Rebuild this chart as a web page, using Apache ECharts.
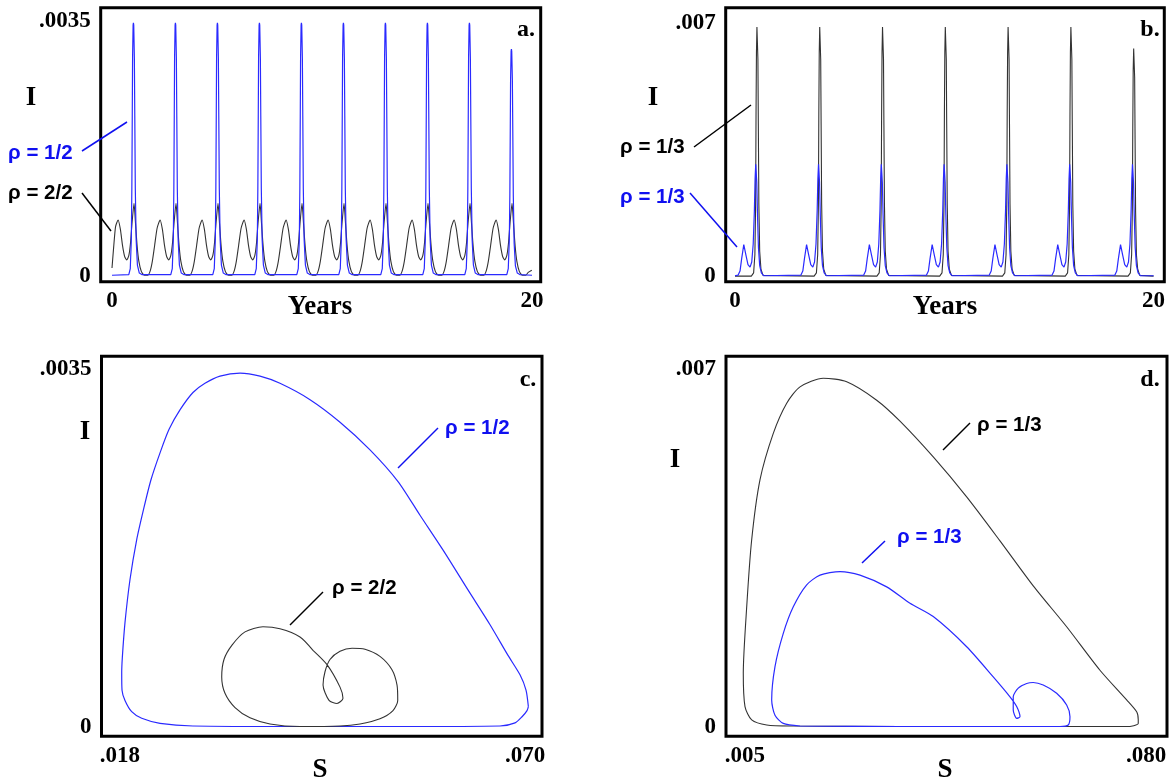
<!DOCTYPE html>
<html>
<head>
<meta charset="utf-8">
<script src="https://cdn.jsdelivr.net/npm/echarts@6/dist/echarts.min.js"></script>
<style>
html,body{margin:0;padding:0;background:#fff;}
#chart{width:1172px;height:780px;}
</style>
</head>
<body>
<div id="chart"></div>
<script>
// ---------- DATA ----------
// Panel a: I vs years
const aRhoHalf = [ // rho = 1/2 (blue)
[0,0.00001],
[0.80,0.00002],[0.87,0.0001],[0.92,0.0005],[0.945,0.0012],[0.965,0.0022],[0.98,0.0030],[1.005,0.00345],[1.02,0.00348],[1.035,0.00345],[1.065,0.0030],[1.085,0.0022],[1.11,0.0012],[1.15,0.0005],[1.21,0.00015],[1.30,0.00004],[1.42,0.00002],
[2.80,0.00002],[2.87,0.0001],[2.92,0.0005],[2.945,0.0012],[2.965,0.0022],[2.98,0.0030],[3.005,0.00345],[3.02,0.00348],[3.035,0.00345],[3.065,0.0030],[3.085,0.0022],[3.11,0.0012],[3.15,0.0005],[3.21,0.00015],[3.30,0.00004],[3.42,0.00002],
[4.80,0.00002],[4.87,0.0001],[4.92,0.0005],[4.945,0.0012],[4.965,0.0022],[4.98,0.0030],[5.005,0.00345],[5.02,0.00348],[5.035,0.00345],[5.065,0.0030],[5.085,0.0022],[5.11,0.0012],[5.15,0.0005],[5.21,0.00015],[5.30,0.00004],[5.42,0.00002],
[6.80,0.00002],[6.87,0.0001],[6.92,0.0005],[6.945,0.0012],[6.965,0.0022],[6.98,0.0030],[7.005,0.00345],[7.02,0.00348],[7.035,0.00345],[7.065,0.0030],[7.085,0.0022],[7.11,0.0012],[7.15,0.0005],[7.21,0.00015],[7.30,0.00004],[7.42,0.00002],
[8.80,0.00002],[8.87,0.0001],[8.92,0.0005],[8.945,0.0012],[8.965,0.0022],[8.98,0.0030],[9.005,0.00345],[9.02,0.00348],[9.035,0.00345],[9.065,0.0030],[9.085,0.0022],[9.11,0.0012],[9.15,0.0005],[9.21,0.00015],[9.30,0.00004],[9.42,0.00002],
[10.80,0.00002],[10.87,0.0001],[10.92,0.0005],[10.945,0.0012],[10.965,0.0022],[10.98,0.0030],[11.005,0.00345],[11.02,0.00348],[11.035,0.00345],[11.065,0.0030],[11.085,0.0022],[11.11,0.0012],[11.15,0.0005],[11.21,0.00015],[11.30,0.00004],[11.42,0.00002],
[12.80,0.00002],[12.87,0.0001],[12.92,0.0005],[12.945,0.0012],[12.965,0.0022],[12.98,0.0030],[13.005,0.00345],[13.02,0.00348],[13.035,0.00345],[13.065,0.0030],[13.085,0.0022],[13.11,0.0012],[13.15,0.0005],[13.21,0.00015],[13.30,0.00004],[13.42,0.00002],
[14.80,0.00002],[14.87,0.0001],[14.92,0.0005],[14.945,0.0012],[14.965,0.0022],[14.98,0.0030],[15.005,0.00345],[15.02,0.00348],[15.035,0.00345],[15.065,0.0030],[15.085,0.0022],[15.11,0.0012],[15.15,0.0005],[15.21,0.00015],[15.30,0.00004],[15.42,0.00002],
[16.80,0.00002],[16.87,0.0001],[16.92,0.0005],[16.945,0.0012],[16.965,0.0022],[16.98,0.0030],[17.005,0.00345],[17.02,0.00348],[17.035,0.00345],[17.065,0.0030],[17.085,0.0022],[17.11,0.0012],[17.15,0.0005],[17.21,0.00015],[17.30,0.00004],[17.42,0.00002],
[18.80,0.00002],[18.87,0.0001],[18.92,0.0005],[18.945,0.0011],[18.965,0.0020],[18.98,0.0027],[19.005,0.00309],[19.02,0.00312],[19.035,0.00309],[19.065,0.0027],[19.085,0.0020],[19.11,0.0011],[19.15,0.00045],[19.21,0.00014],[19.30,0.00004],[19.42,0.00002],
[20,0.00001]
];
const aRhoTwo = [ // rho = 2/2 (dark)
[0,0.00011],[0.08,0.0004],[0.17,0.00068],[0.29,0.00077],[0.40,0.00064],[0.50,0.00042],[0.60,0.00027],[0.70,0.00022],[0.80,0.00028],[0.88,0.00045],[0.96,0.00075],[1.05,0.001],[1.12,0.00072],[1.20,0.0004],[1.28,0.0002],[1.40,0.00006],[1.55,0.00001],[1.70,0.00001],[1.82,0.00007],[1.92,0.0002],
[2.03,0.00042],[2.15,0.00066],[2.29,0.00077],[2.40,0.00064],[2.50,0.00042],[2.60,0.00027],[2.70,0.00022],[2.80,0.00028],[2.88,0.00045],[2.96,0.00075],[3.05,0.001],[3.12,0.00072],[3.20,0.0004],[3.28,0.0002],[3.40,0.00006],[3.55,0.00001],[3.70,0.00001],[3.82,0.00007],[3.92,0.0002],
[4.03,0.00042],[4.15,0.00066],[4.29,0.00077],[4.40,0.00064],[4.50,0.00042],[4.60,0.00027],[4.70,0.00022],[4.80,0.00028],[4.88,0.00045],[4.96,0.00075],[5.05,0.001],[5.12,0.00072],[5.20,0.0004],[5.28,0.0002],[5.40,0.00006],[5.55,0.00001],[5.70,0.00001],[5.82,0.00007],[5.92,0.0002],
[6.03,0.00042],[6.15,0.00066],[6.29,0.00077],[6.40,0.00064],[6.50,0.00042],[6.60,0.00027],[6.70,0.00022],[6.80,0.00028],[6.88,0.00045],[6.96,0.00075],[7.05,0.001],[7.12,0.00072],[7.20,0.0004],[7.28,0.0002],[7.40,0.00006],[7.55,0.00001],[7.70,0.00001],[7.82,0.00007],[7.92,0.0002],
[8.03,0.00042],[8.15,0.00066],[8.29,0.00077],[8.40,0.00064],[8.50,0.00042],[8.60,0.00027],[8.70,0.00022],[8.80,0.00028],[8.88,0.00045],[8.96,0.00075],[9.05,0.001],[9.12,0.00072],[9.20,0.0004],[9.28,0.0002],[9.40,0.00006],[9.55,0.00001],[9.70,0.00001],[9.82,0.00007],[9.92,0.0002],
[10.03,0.00042],[10.15,0.00066],[10.29,0.00077],[10.40,0.00064],[10.50,0.00042],[10.60,0.00027],[10.70,0.00022],[10.80,0.00028],[10.88,0.00045],[10.96,0.00075],[11.05,0.001],[11.12,0.00072],[11.20,0.0004],[11.28,0.0002],[11.40,0.00006],[11.55,0.00001],[11.70,0.00001],[11.82,0.00007],[11.92,0.0002],
[12.03,0.00042],[12.15,0.00066],[12.29,0.00077],[12.40,0.00064],[12.50,0.00042],[12.60,0.00027],[12.70,0.00022],[12.80,0.00028],[12.88,0.00045],[12.96,0.00075],[13.05,0.001],[13.12,0.00072],[13.20,0.0004],[13.28,0.0002],[13.40,0.00006],[13.55,0.00001],[13.70,0.00001],[13.82,0.00007],[13.92,0.0002],
[14.03,0.00042],[14.15,0.00066],[14.29,0.00077],[14.40,0.00064],[14.50,0.00042],[14.60,0.00027],[14.70,0.00022],[14.80,0.00028],[14.88,0.00045],[14.96,0.00075],[15.05,0.001],[15.12,0.00072],[15.20,0.0004],[15.28,0.0002],[15.40,0.00006],[15.55,0.00001],[15.70,0.00001],[15.82,0.00007],[15.92,0.0002],
[16.03,0.00042],[16.15,0.00066],[16.29,0.00077],[16.40,0.00064],[16.50,0.00042],[16.60,0.00027],[16.70,0.00022],[16.80,0.00028],[16.88,0.00045],[16.96,0.00075],[17.05,0.001],[17.12,0.00072],[17.20,0.0004],[17.28,0.0002],[17.40,0.00006],[17.55,0.00001],[17.70,0.00001],[17.82,0.00007],[17.92,0.0002],
[18.03,0.00042],[18.15,0.00066],[18.29,0.00077],[18.40,0.00064],[18.50,0.00042],[18.60,0.00027],[18.70,0.00022],[18.80,0.00028],[18.88,0.00045],[18.96,0.00075],[19.05,0.001],[19.12,0.00072],[19.20,0.0004],[19.28,0.0002],[19.40,0.00006],[19.55,0.00001],[19.70,0.00001],[19.82,0.00005],[19.99,0.00008]
];
// Panel b: I vs years
const bRhoThirdBlack = [
[0,0.00001],
[0.78,0.00001],[0.89,0.0001],[0.95,0.0006],[0.985,0.002],[1.005,0.0045],[1.025,0.0062],[1.048,0.0069],[1.072,0.0069],[1.095,0.006],[1.115,0.0042],[1.14,0.002],[1.18,0.0007],[1.24,0.0002],[1.34,0.00003],
[3.78,0.00001],[3.89,0.0001],[3.95,0.0006],[3.985,0.002],[4.005,0.0045],[4.025,0.0062],[4.048,0.0069],[4.072,0.0069],[4.095,0.006],[4.115,0.0042],[4.14,0.002],[4.18,0.0007],[4.24,0.0002],[4.34,0.00003],
[6.78,0.00001],[6.89,0.0001],[6.95,0.0006],[6.985,0.002],[7.005,0.0045],[7.025,0.0062],[7.048,0.0069],[7.072,0.0069],[7.095,0.006],[7.115,0.0042],[7.14,0.002],[7.18,0.0007],[7.24,0.0002],[7.34,0.00003],
[9.78,0.00001],[9.89,0.0001],[9.95,0.0006],[9.985,0.002],[10.005,0.0045],[10.025,0.0062],[10.048,0.0069],[10.072,0.0069],[10.095,0.006],[10.115,0.0042],[10.14,0.002],[10.18,0.0007],[10.24,0.0002],[10.34,0.00003],
[12.78,0.00001],[12.89,0.0001],[12.95,0.0006],[12.985,0.002],[13.005,0.0045],[13.025,0.0062],[13.048,0.0069],[13.072,0.0069],[13.095,0.006],[13.115,0.0042],[13.14,0.002],[13.18,0.0007],[13.24,0.0002],[13.34,0.00003],
[15.78,0.00001],[15.89,0.0001],[15.95,0.0006],[15.985,0.002],[16.005,0.0045],[16.025,0.0062],[16.048,0.0069],[16.072,0.0069],[16.095,0.006],[16.115,0.0042],[16.14,0.002],[16.18,0.0007],[16.24,0.0002],[16.34,0.00003],
[18.78,0.00001],[18.89,0.0001],[18.95,0.0006],[18.985,0.0019],[19.005,0.0041],[19.025,0.0057],[19.048,0.0063],[19.072,0.0063],[19.095,0.0055],[19.115,0.0038],[19.14,0.0018],[19.18,0.0006],[19.24,0.0002],[19.34,0.00003],
[20,0.00001]
];
const bRhoThirdBlue = [
[0,0.00002],
[0.15,0.00004],[0.24,0.00015],[0.32,0.0005],[0.42,0.00088],[0.52,0.0006],[0.62,0.00033],[0.72,0.00026],[0.80,0.0004],[0.87,0.0009],[0.925,0.0018],[0.96,0.0027],[0.99,0.0031],[1.01,0.0031],[1.04,0.0026],[1.075,0.0017],[1.12,0.0008],[1.18,0.0003],[1.26,0.0001],[1.38,0.00002],
[3.15,0.00004],[3.24,0.00015],[3.32,0.0005],[3.42,0.00088],[3.52,0.0006],[3.62,0.00033],[3.72,0.00026],[3.80,0.0004],[3.87,0.0009],[3.925,0.0018],[3.96,0.0027],[3.99,0.0031],[4.01,0.0031],[4.04,0.0026],[4.075,0.0017],[4.12,0.0008],[4.18,0.0003],[4.26,0.0001],[4.38,0.00002],
[6.15,0.00004],[6.24,0.00015],[6.32,0.0005],[6.42,0.00088],[6.52,0.0006],[6.62,0.00033],[6.72,0.00026],[6.80,0.0004],[6.87,0.0009],[6.925,0.0018],[6.96,0.0027],[6.99,0.0031],[7.01,0.0031],[7.04,0.0026],[7.075,0.0017],[7.12,0.0008],[7.18,0.0003],[7.26,0.0001],[7.38,0.00002],
[9.15,0.00004],[9.24,0.00015],[9.32,0.0005],[9.42,0.00088],[9.52,0.0006],[9.62,0.00033],[9.72,0.00026],[9.80,0.0004],[9.87,0.0009],[9.925,0.0018],[9.96,0.0027],[9.99,0.0031],[10.01,0.0031],[10.04,0.0026],[10.075,0.0017],[10.12,0.0008],[10.18,0.0003],[10.26,0.0001],[10.38,0.00002],
[12.15,0.00004],[12.24,0.00015],[12.32,0.0005],[12.42,0.00088],[12.52,0.0006],[12.62,0.00033],[12.72,0.00026],[12.80,0.0004],[12.87,0.0009],[12.925,0.0018],[12.96,0.0027],[12.99,0.0031],[13.01,0.0031],[13.04,0.0026],[13.075,0.0017],[13.12,0.0008],[13.18,0.0003],[13.26,0.0001],[13.38,0.00002],
[15.15,0.00004],[15.24,0.00015],[15.32,0.0005],[15.42,0.00088],[15.52,0.0006],[15.62,0.00033],[15.72,0.00026],[15.80,0.0004],[15.87,0.0009],[15.925,0.0018],[15.96,0.0027],[15.99,0.0031],[16.01,0.0031],[16.04,0.0026],[16.075,0.0017],[16.12,0.0008],[16.18,0.0003],[16.26,0.0001],[16.38,0.00002],
[18.15,0.00004],[18.24,0.00015],[18.32,0.0005],[18.42,0.00088],[18.52,0.0006],[18.62,0.00033],[18.72,0.00026],[18.80,0.0004],[18.87,0.0009],[18.925,0.0018],[18.96,0.0027],[18.99,0.0031],[19.01,0.0031],[19.04,0.0026],[19.075,0.0017],[19.12,0.0008],[19.18,0.0003],[19.26,0.0001],[19.38,0.00002],
[20,0.00002]
];
// Panel c: I vs S
const cRhoHalf = [
[0.07043,0.00020],[0.07013,0.00036],[0.06936,0.00051],[0.06782,0.00070],[0.06551,0.00100],[0.06268,0.00134],[0.05973,0.00170],[0.05652,0.00207],[0.05370,0.00240],[0.05010,0.00271],[0.04625,0.00298],[0.04240,0.00320],[0.03854,0.00336],[0.03598,0.00343],[0.03341,0.00346],[0.03084,0.00343],[0.02891,0.00336],[0.02737,0.00327],[0.02570,0.00310],[0.02430,0.00291],[0.02314,0.00268],[0.02195,0.00241],[0.02100,0.00212],[0.02014,0.00183],[0.01928,0.00144],[0.01864,0.00102],[0.01830,0.00068],[0.01822,0.00053],[0.01826,0.00036],[0.01864,0.00026],[0.01950,0.00015],[0.02079,0.000085],[0.02314,0.000036],[0.02737,0.00001],[0.04111,0.000005],[0.05395,0.000005],[0.06679,0.00001],[0.06872,0.00004],[0.06962,0.0001],[0.07026,0.00016],[0.07043,0.00020]
];
const cRhoTwo = [
[0.04278,0.00075],[0.04458,0.00061],[0.04625,0.00039],[0.04663,0.00028],[0.04586,0.00023],[0.04484,0.00026],[0.04407,0.00041],[0.04432,0.00054],[0.04496,0.00066],[0.04625,0.00074],[0.04779,0.00077],[0.04946,0.00076],[0.05138,0.00069],[0.05292,0.00056],[0.05357,0.00041],[0.05366,0.00026],[0.05305,0.00016],[0.05138,0.00008],[0.04882,0.00003],[0.04625,0.00001],[0.04111,0.000005],[0.03726,0.00003],[0.03469,0.00009],[0.03277,0.00019],[0.03148,0.00033],[0.03106,0.00049],[0.03135,0.00066],[0.03238,0.00080],[0.03405,0.00093],[0.03636,0.00098],[0.03854,0.00096],[0.04111,0.00088],[0.04278,0.00075]
];
// Panel d: I vs S
const dRhoThirdBlack = [
[0.07700,0.00001],[0.07812,0.00004],[0.07855,0.00007],[0.07855,0.00014],[0.07830,0.00029],[0.07638,0.00053],[0.07139,0.00111],[0.06516,0.00196],[0.05891,0.00276],[0.05269,0.00364],[0.04646,0.00450],[0.04021,0.00528],[0.03399,0.00598],[0.02963,0.00639],[0.02402,0.00675],[0.01964,0.00682],[0.01529,0.00665],[0.01280,0.00633],[0.01029,0.00574],[0.00780,0.00483],[0.00625,0.00366],[0.00532,0.00235],[0.00468,0.00105],[0.00500,0.00040],[0.00625,0.00014],[0.00906,0.00004],[0.01403,0.00002],[0.03399,0.00001],[0.06204,0.00001],[0.07700,0.00001]
];
const dRhoThirdBlue = [
[0.01529,0.00002],[0.03399,0.00001],[0.05269,0.00001],[0.06390,0.00001],[0.06546,0.00004],[0.06578,0.00020],[0.06516,0.00043],[0.06329,0.00066],[0.06078,0.00082],[0.05891,0.00087],[0.05768,0.00085],[0.05611,0.00076],[0.05517,0.00059],[0.05517,0.00033],[0.05581,0.00017],[0.05643,0.00020],[0.05581,0.00040],[0.05456,0.00059],[0.05143,0.00098],[0.04646,0.00157],[0.04021,0.00216],[0.03586,0.00242],[0.03150,0.00274],[0.02651,0.00297],[0.02277,0.00304],[0.01903,0.00297],[0.01654,0.00278],[0.01403,0.00235],[0.01216,0.00183],[0.01061,0.00118],[0.00999,0.00053],[0.01061,0.00023],[0.01216,0.00007],[0.01529,0.00002]
];
// Tick values and labels
const aXTicks = [0, 20], aXLabels = ['0', '20'];
const aYTicks = [0, 0.0035], aYLabels = ['0', '.0035'];
const bXTicks = [0, 20], bXLabels = ['0', '20'];
const bYTicks = [0, 0.007], bYLabels = ['0', '.007'];
const cXTicks = [0.018, 0.070], cXLabels = ['.018', '.070'];
const cYTicks = [0, 0.0035], cYLabels = ['0', '.0035'];
const dXTicks = [0.005, 0.080], dXLabels = ['.005', '.080'];
const dYTicks = [0, 0.007], dYLabels = ['0', '.007'];

// ---------- CHART ----------
const BLUE = '#2a2aff', DARK = '#333333', TXTBLUE = '#1010f0';
const serif = '"Liberation Serif", "Times New Roman", serif';
const sans = '"Liberation Sans", Arial, sans-serif';

function mkAxis(gridIndex, min, max, ticks, labels, isX) {
  return {
    type: 'value', gridIndex: gridIndex, min: min, max: max,
    axisLine: {show: false}, axisTick: {show: false}, splitLine: {show: false},
    axisLabel: {
      customValues: ticks,
      formatter: function (v) {
        for (let i = 0; i < ticks.length; i++) if (Math.abs(ticks[i] - v) < 1e-9) return labels[i];
        return '';
      },
      fontFamily: serif, fontWeight: 'bold', fontSize: 23, color: '#000',
      margin: isX ? 8 : 10,
      showMinLabel: true, showMaxLabel: true, hideOverlap: false
    }
  };
}

const frame = {show: true, borderColor: '#000', borderWidth: 3, backgroundColor: '#fff', containLabel: false};
const option = {
  animation: false,
  backgroundColor: '#fff',
  grid: [
    Object.assign({left: 100.7, top: 7.7, width: 440, height: 274}, frame),
    Object.assign({left: 725.7, top: 7.7, width: 438.6, height: 274}, frame),
    Object.assign({left: 101.5, top: 356.3, width: 440.5, height: 380}, frame),
    Object.assign({left: 726, top: 356.3, width: 441, height: 380}, frame)
  ],
  xAxis: [
    mkAxis(0, -0.5381, 20.4143, aXTicks, aXLabels, true),
    mkAxis(1, -0.4443, 20.5113, bXTicks, bXLabels, true),
    mkAxis(2, 0.0156247, 0.0721827, cXTicks, cXLabels, true),
    mkAxis(3, 0.0014464, 0.0839275, dXTicks, dXLabels, true)
  ],
  yAxis: [
    mkAxis(0, -0.0000784, 0.0036896, aYTicks, aYLabels, false),
    mkAxis(1, -0.0001438, 0.007431, bYTicks, bYLabels, false),
    mkAxis(2, -0.0000909, 0.0036242, cYTicks, cYLabels, false),
    mkAxis(3, -0.0001818, 0.0072483, dYTicks, dYLabels, false)
  ],
  series: [
    {type: 'line', xAxisIndex: 0, yAxisIndex: 0, data: aRhoTwo, showSymbol: false, smooth: 0.2, lineStyle: {color: DARK, width: 1.1}},
    {type: 'line', xAxisIndex: 0, yAxisIndex: 0, data: aRhoHalf, showSymbol: false, lineStyle: {color: BLUE, width: 1.2}},
    {type: 'line', xAxisIndex: 1, yAxisIndex: 1, data: bRhoThirdBlack, showSymbol: false, lineStyle: {color: DARK, width: 1.1}},
    {type: 'line', xAxisIndex: 1, yAxisIndex: 1, data: bRhoThirdBlue, showSymbol: false, lineStyle: {color: BLUE, width: 1.2}},
    {type: 'line', xAxisIndex: 2, yAxisIndex: 2, data: cRhoHalf, showSymbol: false, smooth: 0.25, lineStyle: {color: BLUE, width: 1.2}},
    {type: 'line', xAxisIndex: 2, yAxisIndex: 2, data: cRhoTwo, showSymbol: false, smooth: 0.25, lineStyle: {color: DARK, width: 1.1}},
    {type: 'line', xAxisIndex: 3, yAxisIndex: 3, data: dRhoThirdBlack, showSymbol: false, smooth: 0.25, lineStyle: {color: DARK, width: 1.1}},
    {type: 'line', xAxisIndex: 3, yAxisIndex: 3, data: dRhoThirdBlue, showSymbol: false, smooth: 0.25, lineStyle: {color: BLUE, width: 1.2}}
  ],
  graphic: []
};

function txt(text, x, y, font, fill, align) {
  return {type: 'text', x: x, y: y, z: 100, style: {text: text, font: font, fill: fill || '#000', align: align || 'center', verticalAlign: 'middle'}};
}
function ln(x1, y1, x2, y2, color) {
  return {type: 'line', z: 100, shape: {x1: x1, y1: y1, x2: x2, y2: y2}, style: {stroke: color, lineWidth: 1.5}};
}
const fAxis = 'bold 27px ' + serif;
const fLab = 'bold 20.5px ' + sans;
const fPanel = 'bold 24px ' + serif;
option.graphic = [
  // panel a
  txt('I', 31, 98, fAxis), txt('Years', 320, 307, fAxis), txt('a.', 526, 30, fPanel),
  txt('ρ = 1/2', 8, 153, fLab, TXTBLUE, 'left'), ln(82, 151, 127, 122, TXTBLUE),
  txt('ρ = 2/2', 8, 193, fLab, '#000', 'left'), ln(82, 193, 111, 231, '#000'),
  // panel b
  txt('I', 653, 98, fAxis), txt('Years', 945, 307, fAxis), txt('b.', 1150, 30, fPanel),
  txt('ρ = 1/3', 620, 147, fLab, '#000', 'left'), ln(694, 147, 751, 105, '#000'),
  txt('ρ = 1/3', 620, 197, fLab, TXTBLUE, 'left'), ln(690, 193, 737, 247, TXTBLUE),
  // panel c
  txt('I', 85, 432, fAxis), txt('S', 320, 770, fAxis), txt('c.', 528, 380, fPanel),
  txt('ρ = 1/2', 445, 428, fLab, TXTBLUE, 'left'), ln(398, 468, 438, 428, TXTBLUE),
  txt('ρ = 2/2', 332, 588, fLab, '#000', 'left'), ln(290, 625, 323, 592, '#000'),
  // panel d
  txt('I', 675, 460, fAxis), txt('S', 945, 770, fAxis), txt('d.', 1150, 380, fPanel),
  txt('ρ = 1/3', 977, 425, fLab, '#000', 'left'), ln(943, 450, 970, 423, '#000'),
  txt('ρ = 1/3', 897, 537, fLab, TXTBLUE, 'left'), ln(862, 563, 885, 541, TXTBLUE)
];

const chart = echarts.init(document.getElementById('chart'), null, {renderer: 'canvas'});
chart.setOption(option);
</script>
</body>
</html>
